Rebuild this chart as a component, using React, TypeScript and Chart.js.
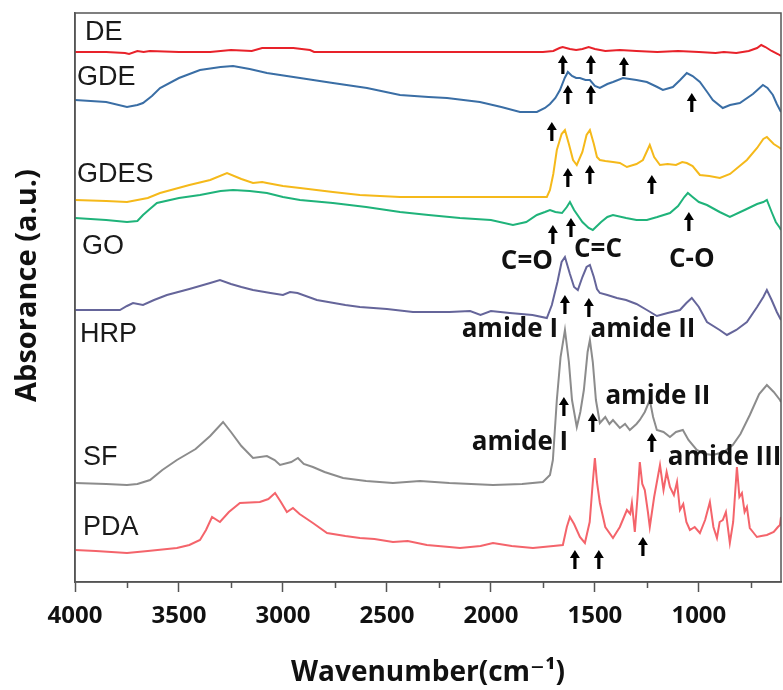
import React, { useEffect, useRef } from "react";
import { Chart, registerables } from "chart.js";

Chart.register(...registerables);

// ---------- axis ----------
const X_MIN = 605;
const X_MAX = 4000;
const Y_MIN = 0;
const Y_MAX = 5.69;
const X_MAJOR_TICKS = [4000, 3500, 3000, 2500, 2000, 1500, 1000];
const X_MINOR_TICKS = [3750, 3250, 2750, 2250, 1750, 1250, 750];
const X_TITLE = "Wavenumber(cm\u207B\u00B9)";
const Y_TITLE = "Absorance (a.u.)";

// ---------- series (wavenumber, stacked absorbance a.u.) ----------
const SERIES_NAMES = ["DE", "GDE", "GDES", "GO", "HRP", "SF", "PDA"];

const DE: [number, number][] = [
  [4000, 5.30], [3850, 5.30], [3760, 5.29], [3740, 5.28], [3700, 5.31], [3670, 5.30], [3640, 5.31],
  [3500, 5.30], [3350, 5.30], [3250, 5.32], [3150, 5.31], [3100, 5.34], [2950, 5.34], [2870, 5.32],
  [2850, 5.30], [2600, 5.30], [2200, 5.30], [1900, 5.30], [1750, 5.30], [1700, 5.31], [1670, 5.34],
  [1655, 5.35], [1620, 5.33], [1590, 5.32], [1560, 5.33], [1530, 5.35], [1500, 5.33], [1450, 5.31],
  [1380, 5.32], [1300, 5.31], [1200, 5.30], [1100, 5.31], [1000, 5.30], [920, 5.29], [880, 5.30],
  [820, 5.29], [760, 5.31], [720, 5.34], [700, 5.37], [680, 5.35], [650, 5.31], [620, 5.28], [605, 5.26],
];

const GDE: [number, number][] = [
  [4000, 4.82], [3850, 4.80], [3750, 4.75], [3700, 4.77], [3673, 4.79], [3630, 4.86], [3591, 4.94],
  [3500, 5.04], [3399, 5.12], [3300, 5.15], [3240, 5.16], [3160, 5.13], [3077, 5.09], [2918, 5.04],
  [2760, 4.99], [2596, 4.94], [2437, 4.87], [2300, 4.85], [2211, 4.84], [2053, 4.80], [1950, 4.75],
  [1860, 4.70], [1800, 4.70], [1779, 4.70], [1740, 4.74], [1716, 4.78], [1690, 4.84], [1668, 4.92],
  [1645, 5.04], [1630, 5.10], [1610, 5.06], [1590, 5.04], [1572, 5.04], [1545, 5.02], [1524, 5.02],
  [1500, 4.96], [1476, 4.94], [1440, 4.98], [1413, 5.00], [1365, 5.04], [1300, 5.02], [1250, 5.00],
  [1200, 4.95], [1173, 4.92], [1125, 4.95], [1090, 5.02], [1058, 5.09], [1030, 5.06], [995, 5.00],
  [960, 4.90], [933, 4.82], [885, 4.74], [850, 4.77], [803, 4.79], [740, 4.88], [692, 4.97],
  [670, 4.94], [644, 4.87], [625, 4.78], [610, 4.72], [605, 4.70],
];

const GDES: [number, number][] = [
  [4000, 3.82], [3850, 3.81], [3750, 3.80], [3650, 3.84], [3591, 3.89], [3450, 3.97], [3350, 4.02],
  [3269, 4.09], [3200, 4.03], [3144, 3.99], [3100, 4.00], [3077, 3.99], [3000, 3.96], [2918, 3.94],
  [2760, 3.90], [2630, 3.87], [2437, 3.85], [2200, 3.85], [2000, 3.85], [1850, 3.85], [1731, 3.85],
  [1716, 3.92], [1700, 4.08], [1683, 4.32], [1660, 4.48], [1644, 4.52], [1625, 4.38], [1605, 4.22],
  [1587, 4.17], [1560, 4.30], [1540, 4.47], [1524, 4.52], [1505, 4.38], [1490, 4.25], [1476, 4.22],
  [1450, 4.21], [1413, 4.20], [1380, 4.19], [1346, 4.15], [1300, 4.18], [1269, 4.22], [1236, 4.37],
  [1215, 4.25], [1187, 4.17], [1150, 4.18], [1110, 4.17], [1080, 4.20], [1058, 4.19], [1030, 4.16],
  [995, 4.07], [950, 4.06], [899, 4.04], [850, 4.08], [769, 4.22], [720, 4.34], [690, 4.43],
  [673, 4.45], [640, 4.38], [610, 4.34], [605, 4.33],
];

const GO: [number, number][] = [
  [4000, 3.64], [3850, 3.62], [3750, 3.60], [3700, 3.61], [3673, 3.67], [3640, 3.73], [3606, 3.79],
  [3500, 3.84], [3399, 3.87], [3300, 3.91], [3240, 3.92], [3160, 3.91], [3077, 3.89], [3000, 3.85],
  [2918, 3.82], [2760, 3.79], [2600, 3.75], [2437, 3.70], [2300, 3.67], [2149, 3.64], [2000, 3.62],
  [1894, 3.57], [1830, 3.60], [1779, 3.67], [1740, 3.70], [1716, 3.72], [1690, 3.70], [1658, 3.69],
  [1635, 3.75], [1620, 3.80], [1600, 3.72], [1560, 3.60], [1530, 3.54], [1510, 3.52], [1470, 3.60],
  [1440, 3.65], [1413, 3.67], [1350, 3.64], [1300, 3.62], [1250, 3.62], [1200, 3.65], [1139, 3.69],
  [1100, 3.76], [1070, 3.85], [1053, 3.89], [1030, 3.85], [1000, 3.80], [961, 3.77], [900, 3.70],
  [851, 3.65], [780, 3.72], [720, 3.78], [690, 3.80], [673, 3.82], [650, 3.70], [630, 3.60],
  [610, 3.54], [605, 3.52],
];

const HRP: [number, number][] = [
  [4000, 2.72], [3900, 2.72], [3784, 2.72], [3750, 2.76], [3721, 2.79], [3673, 2.77], [3620, 2.82],
  [3558, 2.87], [3450, 2.93], [3350, 2.99], [3303, 3.02], [3250, 2.98], [3200, 2.95], [3144, 2.92],
  [3060, 2.89], [3000, 2.87], [2966, 2.90], [2930, 2.89], [2837, 2.82], [2700, 2.77], [2630, 2.75],
  [2500, 2.73], [2375, 2.70], [2200, 2.70], [2100, 2.71], [2050, 2.67], [2000, 2.71], [1909, 2.69],
  [1800, 2.67], [1731, 2.64], [1707, 2.77], [1680, 3.00], [1660, 3.20], [1644, 3.25], [1620, 3.08],
  [1600, 2.95], [1582, 2.92], [1560, 3.05], [1540, 3.15], [1524, 3.17], [1505, 3.05], [1490, 2.93],
  [1476, 2.89], [1440, 2.87], [1394, 2.84], [1350, 2.82], [1300, 2.78], [1250, 2.72], [1202, 2.66],
  [1150, 2.69], [1091, 2.72], [1060, 2.79], [1034, 2.84], [1000, 2.75], [961, 2.60], [900, 2.52],
  [865, 2.47], [820, 2.52], [769, 2.60], [720, 2.75], [690, 2.85], [673, 2.92], [650, 2.82],
  [625, 2.70], [610, 2.64], [605, 2.62],
];

const SF: [number, number][] = [
  [4000, 0.99], [3850, 0.98], [3750, 0.97], [3700, 0.98], [3639, 1.02], [3580, 1.12], [3510, 1.22],
  [3420, 1.33], [3350, 1.46], [3288, 1.60], [3250, 1.50], [3200, 1.36], [3144, 1.24], [3077, 1.26],
  [3040, 1.22], [3014, 1.17], [2960, 1.20], [2928, 1.24], [2900, 1.18], [2856, 1.15], [2800, 1.10],
  [2711, 1.04], [2600, 1.01], [2471, 0.99], [2341, 1.01], [2200, 0.99], [1990, 0.97], [1850, 0.98],
  [1750, 1.00], [1716, 1.07], [1702, 1.22], [1683, 1.82], [1665, 2.25], [1644, 2.52], [1625, 2.20],
  [1610, 1.82], [1587, 1.55], [1570, 1.70], [1553, 1.92], [1535, 2.30], [1524, 2.42], [1510, 2.20],
  [1495, 1.82], [1476, 1.59], [1450, 1.65], [1430, 1.58], [1413, 1.62], [1380, 1.54], [1355, 1.58],
  [1332, 1.52], [1300, 1.58], [1284, 1.62], [1260, 1.70], [1236, 1.82], [1220, 1.65], [1202, 1.52],
  [1170, 1.50], [1139, 1.45], [1110, 1.50], [1077, 1.52], [1050, 1.42], [1010, 1.32], [970, 1.28],
  [933, 1.27], [880, 1.30], [837, 1.37], [800, 1.48], [755, 1.67], [710, 1.88], [673, 1.97],
  [640, 1.90], [610, 1.82], [605, 1.80],
];

const PDA: [number, number][] = [
  [4000, 0.32], [3900, 0.31], [3750, 0.29], [3650, 0.31], [3510, 0.34], [3450, 0.37], [3399, 0.42],
  [3370, 0.52], [3341, 0.65], [3303, 0.60], [3260, 0.70], [3207, 0.79], [3111, 0.80], [3070, 0.83],
  [3038, 0.89], [3010, 0.80], [2981, 0.70], [2952, 0.74], [2920, 0.68], [2856, 0.59], [2788, 0.49],
  [2700, 0.46], [2630, 0.44], [2560, 0.43], [2471, 0.40], [2400, 0.41], [2308, 0.37], [2200, 0.35],
  [2149, 0.34], [2050, 0.36], [1990, 0.39], [1900, 0.36], [1798, 0.34], [1700, 0.36], [1654, 0.37],
  [1635, 0.55], [1620, 0.65], [1600, 0.58], [1572, 0.45], [1548, 0.39], [1525, 0.60], [1510, 1.00],
  [1500, 1.24], [1490, 1.00], [1476, 0.79], [1450, 0.55], [1413, 0.44], [1380, 0.55], [1346, 0.72],
  [1330, 0.68], [1322, 0.79], [1308, 0.50], [1295, 0.85], [1284, 1.20], [1272, 0.98], [1260, 0.92],
  [1245, 0.70], [1236, 0.55], [1215, 0.85], [1187, 1.17], [1170, 0.92], [1155, 1.10], [1139, 0.95],
  [1120, 0.87], [1105, 1.00], [1091, 0.72], [1075, 0.78], [1060, 0.60], [1043, 0.52], [1020, 0.55],
  [995, 0.49], [970, 0.62], [947, 0.80], [930, 0.55], [913, 0.44], [900, 0.60], [885, 0.62],
  [870, 0.70], [851, 0.39], [835, 0.60], [817, 1.15], [805, 0.85], [793, 0.89], [780, 0.70],
  [769, 0.75], [755, 0.54], [740, 0.50], [721, 0.45], [700, 0.46], [673, 0.47], [640, 0.50],
  [620, 0.55], [610, 0.57], [605, 0.65],
];

const SERIES_DATA = [DE, GDE, GDES, GO, HRP, SF, PDA];

// ---------- annotations ----------
// series name labels: [wavenumber of left edge, level]
const NAME_ANCHORS: [number, number][] = [
  [3952, 5.49], [3990, 5.04], [3990, 4.07], [3966, 3.35], [3976, 2.47], [3962, 1.24], [3962, 0.54],
];

const PEAK_LABELS = ["C=O", "C=C", "C-O", "amide I", "amide II", "amide II", "amide I", "amide III"];
const PEAK_LABEL_ANCHORS: [number, number][] = [
  [1827, 3.20], [1485, 3.32], [1034, 3.22], [1909, 2.52], [1269, 2.52], [1197, 1.85], [1860, 1.39], [1149, 1.24],
];
const PEAK_LABEL_ALIGN = ["center", "center", "center", "center", "center", "center", "center", "left"];

// arrows: [wavenumber, tip level]
const ARROWS: [number, number][] = [
  [1654, 5.27], [1519, 5.27], [1360, 5.25],
  [1630, 4.97], [1519, 4.97], [1034, 4.89],
  [1707, 4.60], [1630, 4.14], [1524, 4.17], [1226, 4.07],
  [1702, 3.57], [1615, 3.64], [1048, 3.70],
  [1644, 2.87], [1529, 2.84],
  [1649, 1.85], [1510, 1.69], [1226, 1.49],
  [1596, 0.32], [1481, 0.32], [1269, 0.45],
];

// ---------- styles ----------
const SERIES_COLORS = ["#e8222a", "#3a6ea5", "#f5b91a", "#1fb37a", "#65659a", "#8c8c8c", "#f4646b"];
const FRAME_COLOR = "#555555";
const TEXT_COLOR = "#111111";
const BOLD_FAMILY = '"Open Sans", "DejaVu Sans", sans-serif';
const NAME_FAMILY = '"Liberation Sans", Arial, sans-serif';

const overlayPlugin = {
  id: "overlay",
  afterDraw(chart: any) {
    const { ctx, chartArea: ca } = chart;
    const xs = chart.scales.x;
    const ys = chart.scales.y;
    ctx.save();
    // frame
    ctx.strokeStyle = FRAME_COLOR;
    ctx.lineWidth = 1.5;
    ctx.strokeRect(ca.left, ca.top, ca.right - ca.left, ca.bottom - ca.top);
    // minor ticks
    ctx.beginPath();
    for (const v of X_MINOR_TICKS) {
      const px = Math.round(xs.getPixelForValue(v)) + 0.5;
      ctx.moveTo(px, ca.bottom);
      ctx.lineTo(px, ca.bottom + 6);
    }
    ctx.stroke();

    // y-axis title
    ctx.save();
    ctx.fillStyle = TEXT_COLOR;
    ctx.font = `bold 29px ${BOLD_FAMILY}`;
    ctx.textAlign = "center";
    ctx.textBaseline = "middle";
    ctx.translate(ys.left + 28, (ca.top + ca.bottom) / 2 - 12);
    ctx.rotate(-Math.PI / 2);
    ctx.fillText(Y_TITLE, 0, 0);
    ctx.restore();

    // series names
    ctx.fillStyle = "#1a1a1a";
    ctx.font = `27px ${NAME_FAMILY}`;
    ctx.textAlign = "left";
    ctx.textBaseline = "middle";
    SERIES_NAMES.forEach((name, i) => {
      const [w, v] = NAME_ANCHORS[i];
      ctx.fillText(name, xs.getPixelForValue(w), ys.getPixelForValue(v));
    });

    // peak labels
    ctx.fillStyle = TEXT_COLOR;
    ctx.font = `bold 26px ${BOLD_FAMILY}`;
    PEAK_LABELS.forEach((t, i) => {
      const [w, v] = PEAK_LABEL_ANCHORS[i];
      ctx.textAlign = PEAK_LABEL_ALIGN[i] as CanvasTextAlign;
      ctx.fillText(t, xs.getPixelForValue(w), ys.getPixelForValue(v));
    });

    // arrows
    ctx.fillStyle = "#000";
    const len = 19, headH = 8, headW = 5, stem = 1.6;
    for (const [w, v] of ARROWS) {
      const px = xs.getPixelForValue(w);
      const py = ys.getPixelForValue(v);
      ctx.beginPath();
      ctx.moveTo(px, py);
      ctx.lineTo(px + headW, py + headH);
      ctx.lineTo(px + stem, py + headH);
      ctx.lineTo(px + stem, py + len);
      ctx.lineTo(px - stem, py + len);
      ctx.lineTo(px - stem, py + headH);
      ctx.lineTo(px - headW, py + headH);
      ctx.closePath();
      ctx.fill();
    }
    ctx.restore();
  },
};

export default function App() {
  const ref = useRef<HTMLCanvasElement>(null);
  useEffect(() => {
    if (!ref.current) return;
    const chart = new Chart(ref.current, {
      type: "line",
      data: {
        datasets: SERIES_DATA.map((pts, i) => ({
          label: SERIES_NAMES[i],
          data: pts.map(([x, y]) => ({ x, y })),
          borderColor: SERIES_COLORS[i],
          backgroundColor: SERIES_COLORS[i],
          borderWidth: 2,
          pointRadius: 0,
          tension: 0,
          fill: false,
        })),
      },
      options: {
        responsive: false,
        animation: false,
        events: [],
        layout: { padding: { top: 13, right: 2, left: 0, bottom: 0 } },
        plugins: { legend: { display: false }, tooltip: { enabled: false } },
        scales: {
          x: {
            type: "linear",
            reverse: true,
            min: X_MIN,
            max: X_MAX,
            afterFit: (s: any) => { s.height = 108; },
            afterBuildTicks: (s: any) => { s.ticks = X_MAJOR_TICKS.map((value) => ({ value })); },
            grid: {
              display: true,
              drawOnChartArea: false,
              drawTicks: true,
              tickLength: 10,
              tickWidth: 1.5,
              tickColor: FRAME_COLOR,
            },
            border: { display: true, color: FRAME_COLOR, width: 1.5 },
            ticks: {
              autoSkip: false,
              maxRotation: 0,
              padding: 10,
              color: TEXT_COLOR,
              font: { family: BOLD_FAMILY, weight: "bold", size: 24 },
              callback: (v: any) => String(v),
            },
            title: {
              display: true,
              text: X_TITLE,
              color: TEXT_COLOR,
              font: { family: BOLD_FAMILY, weight: "bold", size: 28 },
              padding: { top: 0, bottom: 0 },
            },
          },
          y: {
            type: "linear",
            min: Y_MIN,
            max: Y_MAX,
            afterFit: (s: any) => { s.width = 75; },
            grid: { display: false },
            border: { display: true, color: FRAME_COLOR, width: 1.5 },
            ticks: { display: false },
            title: { display: false },
          },
        },
      },
      plugins: [overlayPlugin],
    } as any);
    return () => chart.destroy();
  }, []);
  return (
    <div style={{ position: "absolute", left: 0, top: 0, width: 783, height: 690, background: "#fff" }}>
      <canvas ref={ref} width={783} height={690} style={{ display: "block" }} />
    </div>
  );
}
